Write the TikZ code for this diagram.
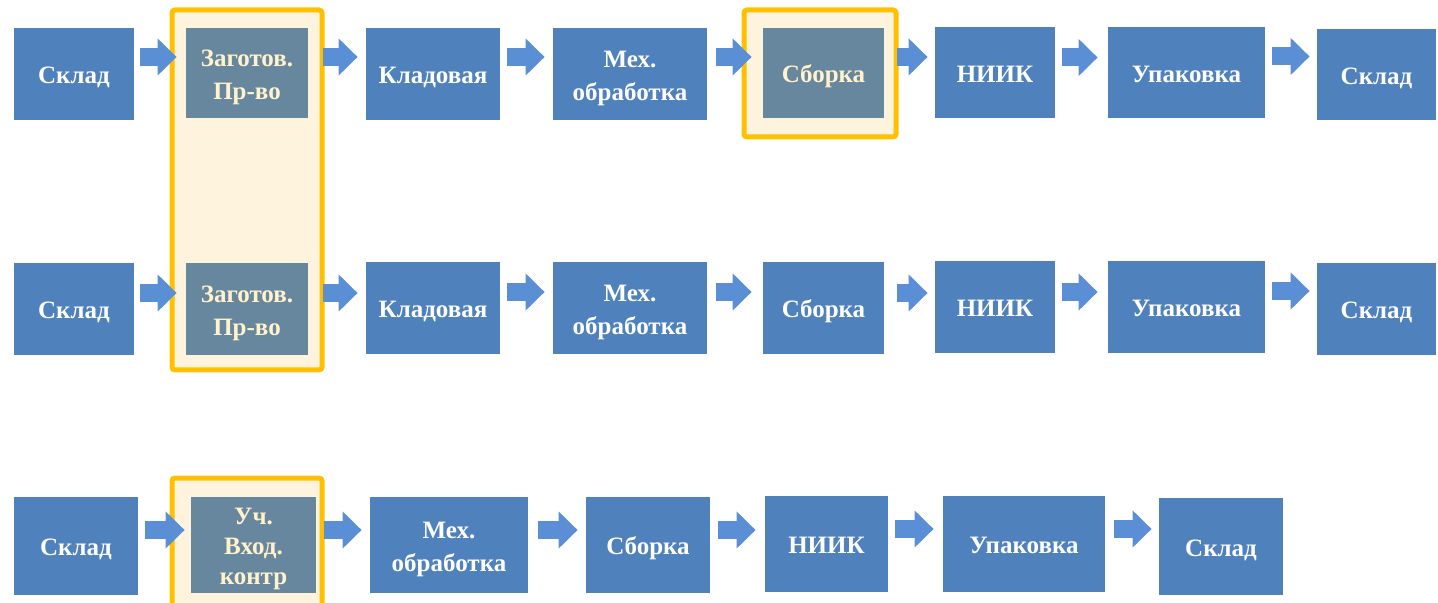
\documentclass[tikz,border=0pt]{standalone}
\usepackage{fontspec}
\setmainfont{Liberation Serif}
\usetikzlibrary{arrows.meta}
\definecolor{boxblue}{HTML}{4F81BD}
\definecolor{boxgrey}{HTML}{66879D}
\definecolor{cream}{HTML}{FEF3DD}
\definecolor{creamtext}{HTML}{FFF2CC}
\definecolor{frameyellow}{HTML}{FFC000}
\definecolor{arrowblue}{HTML}{5A8FD6}
\tikzset{
  box/.style={fill=boxblue, draw=none, text=white, inner sep=0pt, align=center,
    font=\fontsize{12.5}{16.5}\selectfont\bfseries},
  hibox/.style={box, fill=boxgrey, text=creamtext},
  frame/.style={fill=cream, draw=frameyellow, line width=2.5pt, rounded corners=1.5pt},
  blockarrow/.style={draw=arrowblue, line width=9pt,
    -{Triangle[length=9.5pt, width=18pt]}, shorten <=3.5pt, shorten >=3.5pt},
}
\newcommand{\bx}[6]{\node[#1, minimum width=#4*0.5pt, minimum height=#5*0.5pt] (#2) at #3
  {\raisebox{-1.5pt}[\height][\depth]{\begin{tabular}{@{}c@{}}#6\end{tabular}}};}
\begin{document}
\begin{tikzpicture}[x=0.5pt, y=-0.5pt]
\useasboundingbox (0,0) rectangle (1438,603);
% frames
\path[frame] (172,10) rectangle (322,370);
\path[frame] (744,10) rectangle (896,137);
\path[frame] (172,478) rectangle (322,612);
% row 1
\bx{box}{s1}{(74,74)}{120}{92}{Склад}
\bx{hibox}{z1}{(247,73)}{122}{90}{Заготов.\\Пр-во}
\bx{box}{k1}{(433,74)}{134}{92}{Кладовая}
\bx{box}{m1}{(630,74)}{154}{92}{Мех.\\обработка}
\bx{hibox}{c1}{(823.5,73)}{121}{90}{Сборка}
\bx{box}{n1}{(995,72.5)}{120}{91}{НИИК}
\bx{box}{u1}{(1186.5,72.5)}{157}{91}{Упаковка}
\bx{box}{e1}{(1376.5,74.5)}{119}{91}{Склад}
% row 2
\bx{box}{s2}{(74,309)}{120}{92}{Склад}
\bx{hibox}{z2}{(247,309)}{122}{92}{Заготов.\\Пр-во}
\bx{box}{k2}{(433,308)}{134}{92}{Кладовая}
\bx{box}{m2}{(630,308)}{154}{92}{Мех.\\обработка}
\bx{box}{c2}{(823.5,308)}{121}{92}{Сборка}
\bx{box}{n2}{(995,307)}{120}{92}{НИИК}
\bx{box}{u2}{(1186.5,307)}{157}{92}{Упаковка}
\bx{box}{e2}{(1376.5,309)}{119}{92}{Склад}
% row 3
\bx{box}{s3}{(76,546)}{124}{98}{Склад}
\bx{hibox, font=\fontsize{12.5}{15}\selectfont\bfseries}{v3}{(253.5,545)}{125}{96}{Уч.\\Вход.\\контр}
\bx{box}{m3}{(449,545)}{158}{96}{Мех.\\обработка}
\bx{box}{c3}{(648,545)}{124}{96}{Сборка}
\bx{box}{n3}{(826.5,544)}{123}{96}{НИИК}
\bx{box}{u3}{(1024,544)}{162}{96}{Упаковка}
\bx{box}{e3}{(1221,546.5)}{124}{97}{Склад}
% arrows
\foreach \a/\b/\s/\e/\dy in {s1/z1/3/4.5/-17, z1/k1/7.5/4/-16, k1/m1/3.5/4/-17, m1/c1/4.5/5.5/-17, c1/n1/6.5/3.5/-16, n1/u1/3.5/5/-15, u1/e1/3.5/3.5/-16,
  s2/z2/3/4.5/-16, z2/k2/7.5/4/-16, k2/m2/3.5/4/-16, m2/c2/4.5/5.5/-16, c2/n2/6.5/3.5/-15, n2/u2/3.5/5/-15, u2/e2/3.5/3.5/-16,
  s3/v3/3.5/3/-16, v3/m3/4/4/-15, m3/c3/5/4/-15, c3/n3/4/4.5/-15, n3/u3/3.5/4.5/-15, u3/e3/4.5/3.5/-15}{
  \draw[blockarrow, shorten <=\s pt, shorten >=\e pt] ([yshift=-\dy*0.5pt]\a.east) coordinate (p) -- (p -| \b.west);
}
\end{tikzpicture}
\end{document}
